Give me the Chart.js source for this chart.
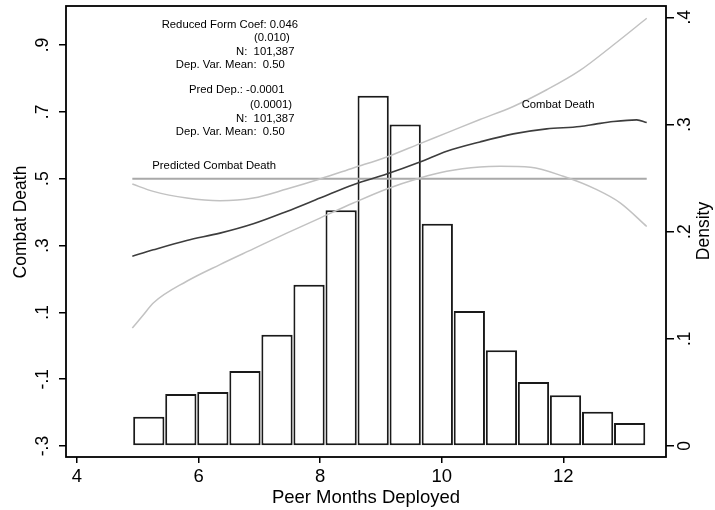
<!DOCTYPE html>
<html>
<head>
<meta charset="utf-8">
<script src="https://cdn.jsdelivr.net/npm/chart.js@4.4.0/dist/chart.umd.min.js"></script>
<style>
  html, body { margin: 0; padding: 0; background: #fff; }
</style>
</head>
<body>
<canvas id="c" width="715" height="510"></canvas>
<script>
// Tick values and their Stata-style labels
const xTicks = [4, 6, 8, 10, 12];
const leftTicks = [-0.3, -0.1, 0.1, 0.3, 0.5, 0.7, 0.9];
const leftTickLabels = ['-.3', '-.1', '.1', '.3', '.5', '.7', '.9'];
const rightTicks = [0, 0.1, 0.2, 0.3, 0.4];
const rightTickLabels = ['0', '.1', '.2', '.3', '.4'];

// Histogram of peer months deployed (density, right axis)
const binCenters = [5.181, 5.708, 6.235, 6.763, 7.290, 7.817, 8.345, 8.872,
                    9.399, 9.927, 10.454, 10.982, 11.509, 12.036, 12.564, 13.091];
const density = [0.0273, 0.0485, 0.0504, 0.0700, 0.1038, 0.1505, 0.2200, 0.3268,
                 0.3000, 0.2074, 0.1260, 0.0893, 0.0597, 0.0473, 0.0320, 0.0215];

// Combat death fit (left axis)
const deathX = [4.91, 5.255, 5.805, 6.352, 6.90, 7.45, 7.997, 8.545, 9.095, 9.642,
                10.082, 10.629, 11.177, 11.727, 12.274, 12.549, 12.822, 13.207, 13.372];
const deathY = [0.268, 0.287, 0.315, 0.337, 0.365, 0.402, 0.442, 0.482, 0.514, 0.550,
                0.582, 0.610, 0.634, 0.649, 0.656, 0.664, 0.671, 0.676, 0.668];

// Upper confidence band
const upperX = [4.91, 5.255, 5.805, 6.352, 6.90, 7.45, 7.997, 8.545, 9.095, 9.642,
                10.082, 10.629, 11.177, 11.727, 12.274, 12.822, 13.372];
const upperY = [0.484, 0.462, 0.442, 0.434, 0.442, 0.469, 0.499, 0.532, 0.565, 0.605,
                0.637, 0.677, 0.716, 0.766, 0.824, 0.900, 0.980];

// Lower confidence band
const lowerX = [4.91, 5.09, 5.255, 5.805, 6.352, 6.90, 7.45, 7.997, 8.545, 9.095, 9.642,
                10.082, 10.629, 10.96, 11.46, 12.0, 12.55, 12.94, 13.372];
const lowerY = [0.053, 0.092, 0.128, 0.193, 0.243, 0.290, 0.337, 0.382, 0.427, 0.469, 0.502,
                0.522, 0.535, 0.537, 0.534, 0.507, 0.467, 0.427, 0.357];

// Predicted combat death (flat)
const predX = [4.91, 13.372];
const predY = [0.50, 0.50];

const FONT = '"Liberation Sans", Arial, sans-serif';

function zip(xs, ys) {
  return xs.map((x, i) => ({ x: x, y: ys[i] }));
}

// Text blocks placed in data coordinates (x, left axis)
const notes = [
  { text: 'Reduced Form Coef: 0.046', x: 5.393, y: 0.960 },
  { text: '(0.010)', x: 6.912, y: 0.920 },
  { text: 'N:  101,387', x: 6.616, y: 0.878 },
  { text: 'Dep. Var. Mean:  0.50', x: 5.624, y: 0.840 },
  { text: 'Pred Dep.: -0.0001', x: 5.842, y: 0.765 },
  { text: '(0.0001)', x: 6.846, y: 0.720 },
  { text: 'N:  101,387', x: 6.616, y: 0.679 },
  { text: 'Dep. Var. Mean:  0.50', x: 5.624, y: 0.640 },
  { text: 'Predicted Combat Death', x: 5.239, y: 0.539 },
  { text: 'Combat Death', x: 11.315, y: 0.720 }
];

// Draw rotated text (reading bottom to top)
function rot(ctx, text, x, y) {
  ctx.save();
  ctx.translate(x, y);
  ctx.rotate(-Math.PI / 2);
  ctx.fillText(text, 0, 0);
  ctx.restore();
}

const stataText = {
  id: 'stataText',
  afterDraw(chart) {
    const { ctx, chartArea: a, scales } = chart;
    ctx.save();
    // plot frame
    ctx.strokeStyle = '#000';
    ctx.lineWidth = 1.8;
    ctx.strokeRect(a.left, a.top, a.right - a.left, a.bottom - a.top);

    ctx.fillStyle = '#000';
    ctx.textAlign = 'center';
    ctx.textBaseline = 'middle';
    ctx.font = '17.5px ' + FONT;
    leftTicks.forEach((v, i) => rot(ctx, leftTickLabels[i], a.left - 23, scales.y.getPixelForValue(v)));
    rightTicks.forEach((v, i) => rot(ctx, rightTickLabels[i], a.right + 19, scales.y2.getPixelForValue(v)));
    rot(ctx, 'Combat Death', a.left - 45, 222);
    rot(ctx, 'Density', a.right + 38, 231);

    ctx.font = '18.5px ' + FONT;
    ctx.textBaseline = 'alphabetic';
    ctx.fillText('Peer Months Deployed', (a.left + a.right) / 2, 503);

    ctx.font = '11.3px ' + FONT;
    ctx.textAlign = 'left';
    ctx.textBaseline = 'middle';
    notes.forEach(n => {
      ctx.fillText(n.text, scales.x.getPixelForValue(n.x), scales.y.getPixelForValue(n.y));
    });
    ctx.restore();
  }
};

const lineBase = { type: 'line', pointRadius: 0, fill: false, yAxisID: 'y', order: 1,
                   cubicInterpolationMode: 'monotone' };

new Chart(document.getElementById('c'), {
  type: 'bar',
  data: {
    datasets: [
      Object.assign({}, lineBase, { label: 'Combat Death', data: zip(deathX, deathY),
        borderColor: '#3d3d3d', borderWidth: 1.6 }),
      Object.assign({}, lineBase, { label: 'Upper CI', data: zip(upperX, upperY),
        borderColor: '#c2c2c2', borderWidth: 1.5 }),
      Object.assign({}, lineBase, { label: 'Lower CI', data: zip(lowerX, lowerY),
        borderColor: '#c2c2c2', borderWidth: 1.5 }),
      Object.assign({}, lineBase, { label: 'Predicted Combat Death', data: zip(predX, predY),
        borderColor: '#a9a9a9', borderWidth: 2 }),
      {
        type: 'bar', label: 'Density', data: zip(binCenters, density), yAxisID: 'y2', order: 2,
        backgroundColor: '#ffffff', borderColor: '#1a1a1a', borderWidth: 2, borderSkipped: false,
        barPercentage: 1, categoryPercentage: 0.975
      }
    ]
  },
  options: {
    responsive: false,
    animation: false,
    layout: { padding: { top: 6, left: 0, right: 0, bottom: 0 } },
    plugins: { legend: { display: false }, tooltip: { enabled: false } },
    scales: {
      x: {
        type: 'linear', position: 'bottom', min: 3.819, max: 13.689, offset: false,
        afterBuildTicks: s => { s.ticks = xTicks.map(v => ({ value: v })); },
        ticks: { font: { family: FONT, size: 18.5 }, color: '#000', padding: 3, maxRotation: 0 },
        grid: { offset: false, drawOnChartArea: false, drawTicks: true, tickLength: 6, color: '#000', lineWidth: 1.5 },
        border: { display: false },
        afterFit: s => { s.height = 53; }
      },
      y: {
        type: 'linear', position: 'left', min: -0.3329, max: 1.0167,
        afterBuildTicks: s => { s.ticks = leftTicks.map(v => ({ value: v })); },
        ticks: { display: false },
        grid: { drawOnChartArea: false, drawTicks: true, tickLength: 7, color: '#000', lineWidth: 1.5 },
        border: { display: false },
        afterFit: s => { s.width = 66; }
      },
      y2: {
        type: 'linear', position: 'right', min: -0.01026, max: 0.4105,
        afterBuildTicks: s => { s.ticks = rightTicks.map(v => ({ value: v })); },
        ticks: { display: false },
        grid: { drawOnChartArea: false, drawTicks: true, tickLength: 8, color: '#000', lineWidth: 1.5 },
        border: { display: false },
        afterFit: s => { s.width = 49; }
      }
    }
  },
  plugins: [stataText]
});
</script>
</body>
</html>
